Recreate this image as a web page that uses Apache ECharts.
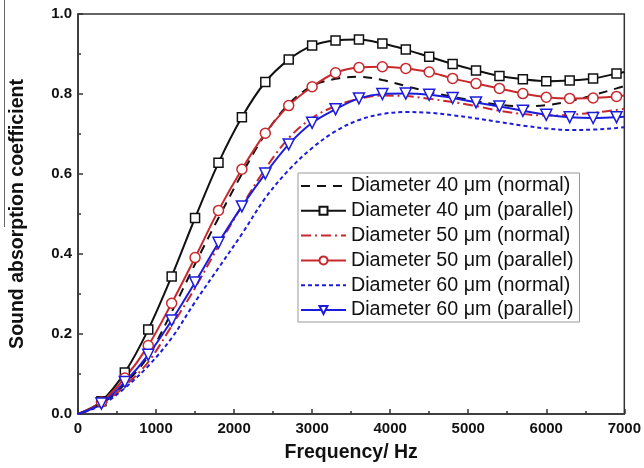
<!DOCTYPE html>
<html>
<head>
<meta charset="utf-8">
<script src="https://cdn.jsdelivr.net/npm/echarts@6/dist/echarts.min.js"></script>
<style>html,body{margin:0;padding:0;background:#fff;}#c{width:644px;height:468px;}</style>
</head>
<body>
<div id="c"></div>
<script>
var freqs = [0,300,600,900,1200,1500,1800,2100,2400,2700,3000,3300,3600,3900,4200,4500,4800,5100,5400,5700,6000,6300,6600,6900,7000];
var d40Normal   = [0,0.025,0.075,0.145,0.255,0.375,0.490,0.600,0.700,0.775,0.820,0.838,0.843,0.835,0.820,0.805,0.793,0.782,0.773,0.769,0.772,0.782,0.797,0.814,0.820];
var d40Parallel = [0,0.032,0.104,0.211,0.344,0.490,0.628,0.742,0.830,0.886,0.921,0.934,0.936,0.926,0.911,0.893,0.875,0.859,0.845,0.837,0.832,0.834,0.839,0.851,0.855];
var d50Normal   = [0,0.025,0.070,0.130,0.220,0.315,0.420,0.520,0.613,0.690,0.740,0.770,0.788,0.796,0.795,0.788,0.780,0.770,0.758,0.750,0.746,0.748,0.753,0.760,0.763];
var d50Parallel = [0,0.030,0.090,0.171,0.277,0.391,0.509,0.612,0.702,0.771,0.818,0.853,0.866,0.868,0.864,0.855,0.839,0.826,0.814,0.801,0.792,0.789,0.790,0.794,0.796];
var d60Normal   = [0,0.022,0.065,0.120,0.190,0.280,0.365,0.450,0.540,0.610,0.665,0.707,0.735,0.750,0.755,0.753,0.747,0.739,0.730,0.721,0.714,0.710,0.711,0.715,0.717];
var d60Parallel = [0,0.026,0.080,0.148,0.234,0.329,0.428,0.519,0.601,0.674,0.728,0.762,0.789,0.800,0.801,0.798,0.790,0.779,0.769,0.758,0.748,0.742,0.740,0.742,0.743];
var names = ['Diameter 40 \u03bcm (normal)','Diameter 40 \u03bcm (parallel)','Diameter 50 \u03bcm (normal)','Diameter 50 \u03bcm (parallel)','Diameter 60 \u03bcm (normal)','Diameter 60 \u03bcm (parallel)'];
var xTicks = [0,1000,2000,3000,4000,5000,6000,7000];

var BLACK='#111111', RED='#c8282c', BLUE='#1c1cdc';
function pts(vals, marked){
  return freqs.map(function(f,i){
    var o={value:[f,vals[i]]};
    if(marked && (f===0 || f===7000)) o.symbol='none';
    return o;
  });
}
function lineSeries(name, vals, color, type){
  return {name:name,type:'line',smooth:0.35,data:pts(vals,false),symbol:'none',
    lineStyle:{color:color,width:2,type:type},itemStyle:{color:color},z:2};
}
function markSeries(name, vals, color, symbol, size, rot){
  return {name:name,type:'line',smooth:0.35,data:pts(vals,true),symbol:symbol,symbolSize:size,symbolRotate:rot||0,
    showAllSymbol:true,
    lineStyle:{color:color,width:2},itemStyle:{color:'#fff',borderColor:color,borderWidth:1.5},z:3};
}
var legendData = names.map(function(n,i){
  return (i%2===0) ? {name:n,itemStyle:{opacity:0,color:'transparent',borderWidth:0}} : {name:n};
});
var chart = echarts.init(document.getElementById('c'),null,{renderer:'canvas'});
chart.setOption({
  animation:false,
  backgroundColor:'#fff',
  grid:{left:73,right:17,top:14,bottom:50,show:true,borderColor:'#333',borderWidth:1.5,backgroundColor:'transparent'},
  xAxis:{type:'value',min:0,max:7000,interval:1000,
    name:'Frequency/ Hz',nameLocation:'middle',nameGap:29,
    nameTextStyle:{fontFamily:'Liberation Sans',fontWeight:'bold',fontSize:19.5,color:'#111'},
    axisLine:{show:true,lineStyle:{color:'#333',width:1.5}},
    axisTick:{show:true,inside:true,length:5,lineStyle:{color:'#333',width:1.5}},
    minorTick:{show:true,splitNumber:2,length:3,lineStyle:{color:'#333',width:1.5}},
    splitLine:{show:false},
    axisLabel:{fontFamily:'Liberation Sans',fontWeight:'bold',fontSize:15,color:'#111',margin:7,
      customValues:xTicks,formatter:function(v){return String(v);}}
  },
  yAxis:{type:'value',min:0,max:1,interval:0.2,
    name:'Sound absorption coefficient',nameLocation:'middle',nameGap:50,nameRotate:90,
    nameTextStyle:{fontFamily:'Liberation Sans',fontWeight:'bold',fontSize:19.5,color:'#111'},
    axisLine:{show:true,lineStyle:{color:'#333',width:1.5}},
    axisTick:{show:true,inside:true,length:5,lineStyle:{color:'#333',width:1.5}},
    minorTick:{show:true,splitNumber:2,length:3,lineStyle:{color:'#333',width:1.5}},
    splitLine:{show:false},
    axisLabel:{fontFamily:'Liberation Sans',fontWeight:'bold',fontSize:15,color:'#111',margin:6,
      formatter:function(v){return v.toFixed(1);}}
  },
  legend:{orient:'vertical',left:298,top:173,padding:[3,6,2,2],itemWidth:45,itemHeight:10,itemGap:4.8,
    borderColor:'#999',borderWidth:1,backgroundColor:'#fff',
    textStyle:{fontFamily:'Liberation Sans',fontSize:19.7,color:'#111',lineHeight:19,padding:[0,0,0,0]},
    data:legendData},
  graphic:[{type:'line',shape:{x1:4.5,y1:0,x2:4.5,y2:227},style:{stroke:'#666',lineWidth:1}}],
  series:[
    lineSeries(names[0], d40Normal, BLACK, [9,7]),
    markSeries(names[1], d40Parallel, BLACK, 'rect', 9),
    lineSeries(names[2], d50Normal, RED, [10,4,2,4]),
    markSeries(names[3], d50Parallel, RED, 'circle', 10),
    lineSeries(names[4], d60Normal, BLUE, [4,3]),
    markSeries(names[5], d60Parallel, BLUE, 'triangle', 11, 180)
  ]
});
</script>
</body>
</html>
